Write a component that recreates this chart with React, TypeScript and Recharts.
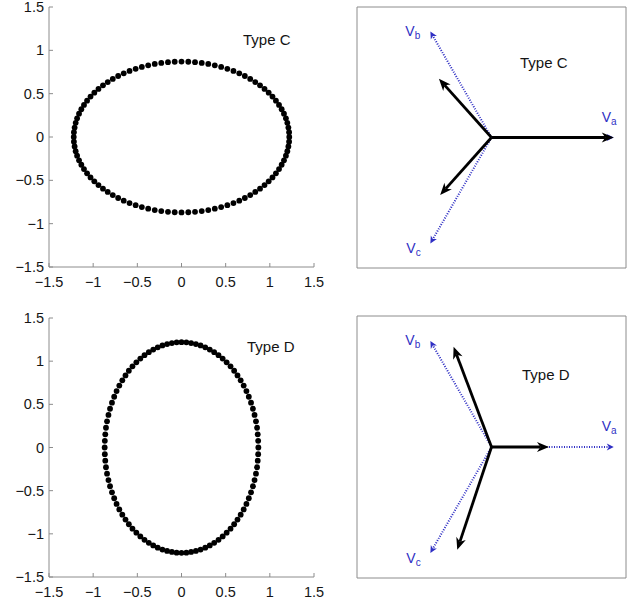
import React from "react";
import { ScatterChart, Scatter, XAxis, YAxis, ReferenceLine, ReferenceArea } from "recharts";

// tick values shared by both ellipse plots
const axisTicks = [-1.5, -1, -0.5, 0, 0.5, 1, 1.5];

// Type C trajectory
const typeCX = [
  1.22, 1.218, 1.21, 1.198, 1.182, 1.16, 1.134, 1.104, 1.069, 1.03,
  0.987, 0.94, 0.889, 0.835, 0.778, 0.717, 0.654, 0.588, 0.519, 0.449,
  0.377, 0.303, 0.229, 0.153, 0.077, 0, -0.077, -0.153, -0.229, -0.303,
  -0.377, -0.449, -0.519, -0.588, -0.654, -0.717, -0.778, -0.835, -0.889, -0.94,
  -0.987, -1.03, -1.069, -1.104, -1.134, -1.16, -1.182, -1.198, -1.21, -1.218,
  -1.22, -1.218, -1.21, -1.198, -1.182, -1.16, -1.134, -1.104, -1.069, -1.03,
  -0.987, -0.94, -0.889, -0.835, -0.778, -0.717, -0.654, -0.588, -0.519, -0.449,
  -0.377, -0.303, -0.229, -0.153, -0.077, 0, 0.077, 0.153, 0.229, 0.303,
  0.377, 0.449, 0.519, 0.588, 0.654, 0.717, 0.778, 0.835, 0.889, 0.94,
  0.987, 1.03, 1.069, 1.104, 1.134, 1.16, 1.182, 1.198, 1.21, 1.218,
];
const typeCY = [
  0, 0.055, 0.109, 0.163, 0.216, 0.269, 0.32, 0.37, 0.419, 0.466,
  0.511, 0.555, 0.596, 0.634, 0.67, 0.704, 0.735, 0.762, 0.787, 0.809,
  0.827, 0.843, 0.855, 0.863, 0.868, 0.87, 0.868, 0.863, 0.855, 0.843,
  0.827, 0.809, 0.787, 0.762, 0.735, 0.704, 0.67, 0.634, 0.596, 0.555,
  0.511, 0.466, 0.419, 0.37, 0.32, 0.269, 0.216, 0.163, 0.109, 0.055,
  0, -0.055, -0.109, -0.163, -0.216, -0.269, -0.32, -0.37, -0.419, -0.466,
  -0.511, -0.555, -0.596, -0.634, -0.67, -0.704, -0.735, -0.762, -0.787, -0.809,
  -0.827, -0.843, -0.855, -0.863, -0.868, -0.87, -0.868, -0.863, -0.855, -0.843,
  -0.827, -0.809, -0.787, -0.762, -0.735, -0.704, -0.67, -0.634, -0.596, -0.555,
  -0.511, -0.466, -0.419, -0.37, -0.32, -0.269, -0.216, -0.163, -0.109, -0.055,
];
// Type D is the same ellipse standing upright
const typeDX = typeCY;
const typeDY = typeCX;

// phasors a, b, c
const phasorNames = ["a", "b", "c"];
const preFaultX = [1, -0.5, -0.5];
const preFaultY = [0, 0.866, -0.866];
const sagCX = [1, -0.43, -0.42];
const sagCY = [0, 0.48, -0.47];
const sagDX = [0.47, -0.31, -0.28];
const sagDY = [0, 0.82, -0.84];

const FONT = "'Liberation Sans', Arial, Helvetica, sans-serif";
const BOX = "#8c8c8c";
const BLUE = "#2f2fc4";

const fmt = (v: number) => String(v).replace("-", "\u2212");

// where each V label sits relative to its arrow tip
const labelOffset: Record<string, [number, number]> = {
  a: [-12, -16],
  b: [-25, 4],
  c: [-24, 10],
};

function arrow(color: string, width: number, len: number, half: number, notch: number, dash?: string, name?: string) {
  return (p: any) => {
    const { x1, y1, x2, y2 } = p;
    const ang = Math.atan2(y2 - y1, x2 - x1);
    const c = Math.cos(ang);
    const s = Math.sin(ang);
    const at = (along: number, side: number) => `${x2 + along * c - side * s},${y2 + along * s + side * c}`;
    const nx = x2 - notch * c;
    const ny = y2 - notch * s;
    const off = name ? labelOffset[name] : [0, 0];
    return (
      <g>
        <line x1={x1} y1={y1} x2={nx} y2={ny} stroke={color} strokeWidth={width} strokeDasharray={dash} />
        <polygon points={`${at(0, 0)} ${at(-len, half)} ${at(-notch, 0)} ${at(-len, -half)}`} fill={color} />
        {name && (
          <text x={x2 + off[0]} y={y2 + off[1]} fill={BLUE} fontSize={14} fontFamily={FONT}>
            V
            <tspan dy={3} fontSize={10}>{name}</tspan>
          </text>
        )}
      </g>
    );
  };
}

function EllipsePlot({ xs, ys, height, marginTop, axisHeight }: { xs: number[]; ys: number[]; height: number; marginTop: number; axisHeight: number }) {
  const data = xs.map((x, i) => ({ x, y: ys[i] }));
  const tickStyle = { fill: "#151515", fontSize: 14.5, fontFamily: FONT };
  return (
    <ScatterChart width={340} height={height} margin={{ top: marginTop, right: 26, bottom: 0, left: 4 }}>
      <XAxis xAxisId="b" type="number" dataKey="x" domain={[-1.5, 1.5]} ticks={axisTicks} interval={0} allowDataOverflow
        height={axisHeight} tickSize={-4} tickMargin={14} stroke={BOX} tick={tickStyle} tickFormatter={fmt} />
      <XAxis xAxisId="t" orientation="top" type="number" domain={[-1.5, 1.5]} ticks={axisTicks} interval={0} allowDataOverflow
        height={0} tickSize={-4} stroke={BOX} tickFormatter={() => ""} />
      <YAxis yAxisId="l" type="number" dataKey="y" domain={[-1.5, 1.5]} ticks={axisTicks} interval={0} allowDataOverflow
        width={45} tickSize={-4} tickMargin={9} stroke={BOX} tick={tickStyle} tickFormatter={fmt} />
      <YAxis yAxisId="r" orientation="right" type="number" domain={[-1.5, 1.5]} ticks={axisTicks} interval={0} allowDataOverflow
        width={0} tickSize={-4} stroke={BOX} tickFormatter={() => ""} />
      <Scatter xAxisId="b" yAxisId="l" data={data} isAnimationActive={false}
        shape={(p: any) => <circle cx={p.cx} cy={p.cy} r={2.9} fill="#000" />} />
    </ScatterChart>
  );
}

function PhasorPlot({ height, sagX, sagY }: { height: number; sagX: number[]; sagY: number[] }) {
  const yMax = (1.1 * height) / 269;
  const tips = sagX.map((x, i) => ({ x, y: sagY[i] }));
  return (
    <ScatterChart width={271} height={height + 2} margin={{ top: 1, right: 1, bottom: 1, left: 1 }}>
      <XAxis type="number" dataKey="x" domain={[-1.1, 1.1]} hide allowDataOverflow />
      <YAxis type="number" dataKey="y" domain={[-yMax, yMax]} hide allowDataOverflow />
      <ReferenceArea x1={-1.1} x2={1.1} y1={-yMax} y2={yMax} fill="none" stroke={BOX} strokeWidth={1} fillOpacity={0} />
      <Scatter data={tips} isAnimationActive={false} shape={() => <g />} />
      {phasorNames.map((n, i) => (
        <ReferenceLine key={"p" + n} segment={[{ x: 0, y: 0 }, { x: preFaultX[i], y: preFaultY[i] }]}
          shape={arrow(BLUE, 2, 7, 3.5, 5, "1 1.5", n)} />
      ))}
      {phasorNames.map((n, i) => (
        <ReferenceLine key={"s" + n} segment={[{ x: 0, y: 0 }, { x: sagX[i], y: sagY[i] }]}
          shape={arrow("#000", 2.8, 12, 5, 8.5)} />
      ))}
    </ScatterChart>
  );
}

const titleStyle: React.CSSProperties = { fontSize: 15, fontFamily: FONT, fill: "#141414" };

export default function App() {
  return (
    <div style={{ position: "absolute", left: 0, top: 0, width: 636, height: 605, background: "#fff", overflow: "hidden" }}>
      <div style={{ position: "absolute", left: 0, top: 0 }}>
        <EllipsePlot xs={typeCX} ys={typeCY} height={300} marginTop={7} axisHeight={33} />
      </div>
      <div style={{ position: "absolute", left: 0, top: 300 }}>
        <EllipsePlot xs={typeDX} ys={typeDY} height={305} marginTop={18} axisHeight={28} />
      </div>
      <div style={{ position: "absolute", left: 356, top: 6 }}>
        <PhasorPlot height={261} sagX={sagCX} sagY={sagCY} />
      </div>
      <div style={{ position: "absolute", left: 356, top: 315 }}>
        <PhasorPlot height={262} sagX={sagDX} sagY={sagDY} />
      </div>
      <svg width={636} height={605} style={{ position: "absolute", left: 0, top: 0, pointerEvents: "none" }}>
        <text x={243} y={45} style={titleStyle}>Type C</text>
        <text x={247} y={352} style={titleStyle}>Type D</text>
        <text x={520} y={68} style={titleStyle}>Type C</text>
        <text x={522} y={380} style={titleStyle}>Type D</text>
      </svg>
    </div>
  );
}
